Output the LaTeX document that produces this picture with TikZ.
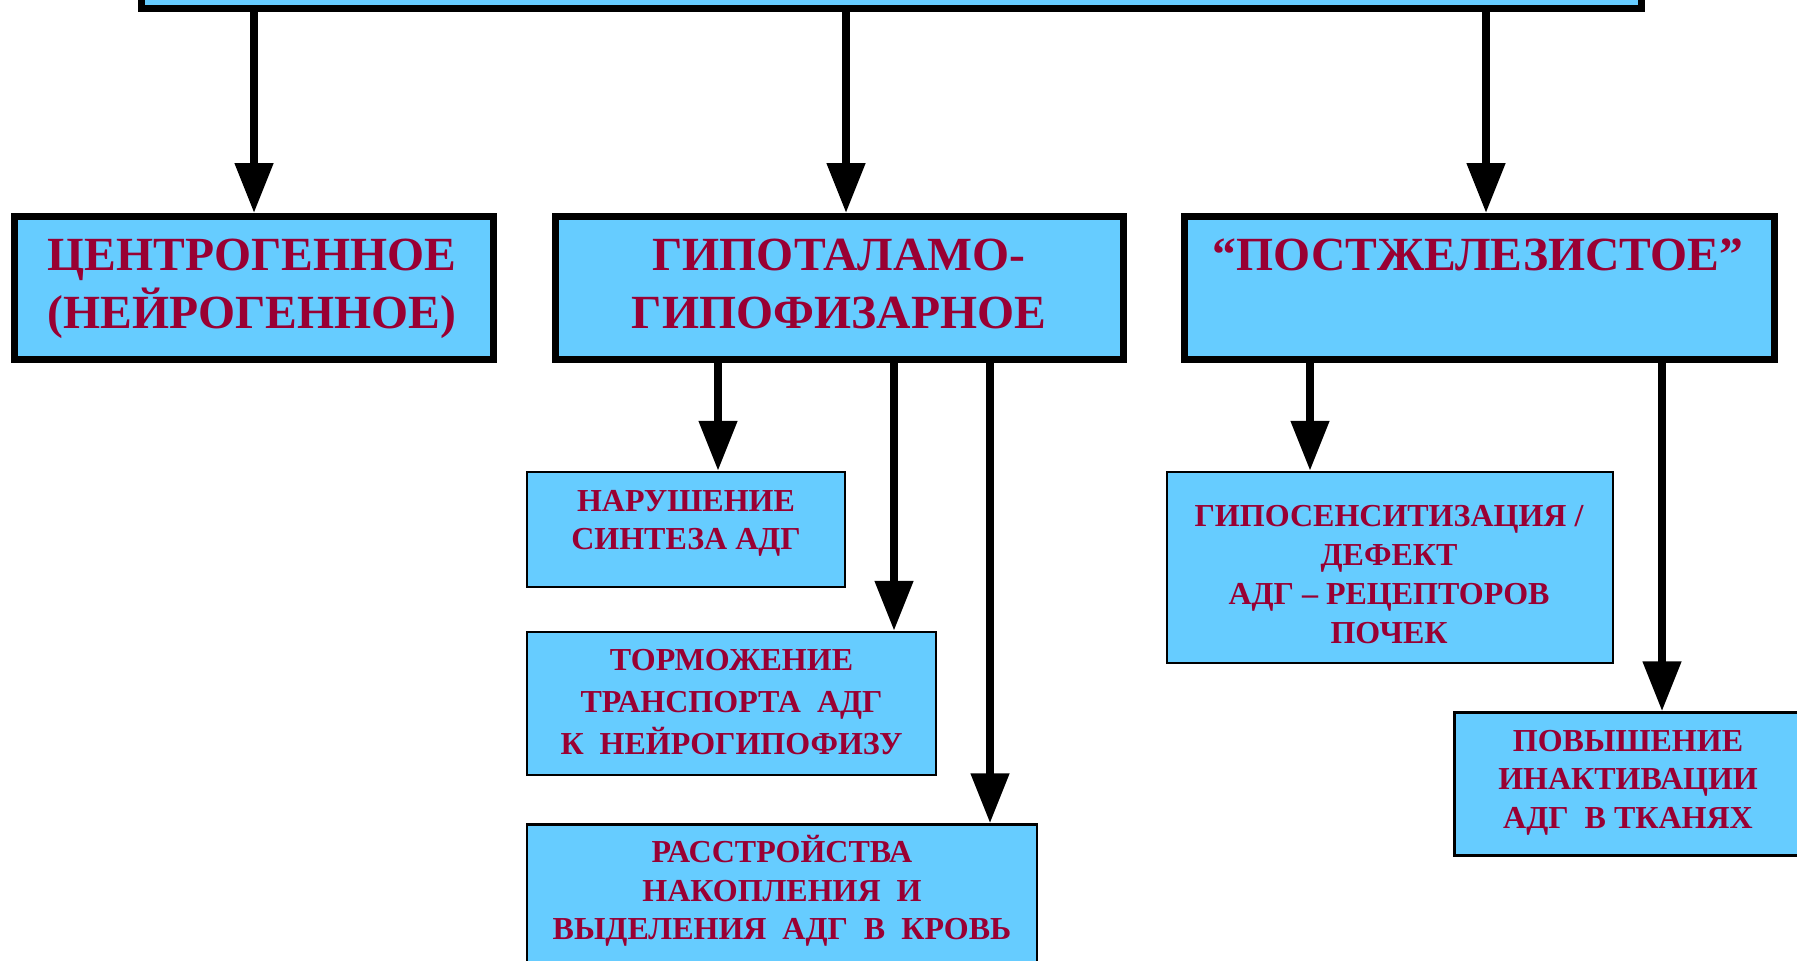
\documentclass[tikz,border=0pt]{standalone}
\usepackage{fontspec}
\setmainfont{Liberation Serif}
\usetikzlibrary{arrows.meta}
\definecolor{boxblue}{HTML}{66CCFF}
\definecolor{txtred}{HTML}{990033}
\begin{document}
\begin{tikzpicture}[x=0.5pt,y=-0.5pt,
  bigbox/.style={draw=black,fill=boxblue,line width=3.5pt,rectangle,inner sep=0pt},
  smallbox/.style={draw=black,fill=boxblue,line width=1.25pt,rectangle,inner sep=0pt},
  bigtxt/.style={text=txtred,font=\bfseries\fontsize{23.8pt}{29pt}\selectfont,align=center,inner sep=0pt,anchor=north},
  smalltxt/.style={text=txtred,align=center,inner sep=0pt,anchor=north},
  arr/.style={line width=4pt,-{Triangle[length=25pt,width=18.5pt]}}]
\useasboundingbox (0,0) rectangle (1797,960);
% top box (cut off)
\node[bigbox,minimum width=750pt,minimum height=54pt] (top) at (891.5,-45.5) {};
% level 2
\node[bigbox,minimum width=239.25pt,minimum height=71.5pt] (b1) at (254,288) {};
\node[bigbox,minimum width=284pt,minimum height=71.5pt] (b2) at (839.5,288) {};
\node[bigbox,minimum width=295pt,minimum height=71.5pt] (b3) at (1479.5,288) {};
\node[bigtxt] (t1) at (252,229.4) {\strut ЦЕНТРОГЕННОЕ\\\strut (НЕЙРОГЕННОЕ)};
\node[bigtxt] (t2) at (839,229.4) {\strut ГИПОТАЛАМО-\\\strut ГИПОФИЗАРНОЕ};
\node[bigtxt] (t3) at (1478,229.4) {\strut “ПОСТЖЕЛЕЗИСТОЕ”};
% level 3
\node[smallbox,minimum width=159pt,minimum height=57.5pt] (n1) at (686,529.5) {};
\node[smallbox,minimum width=204.5pt,minimum height=71.5pt] (n2) at (731.5,703.5) {};
\node[smallbox,minimum width=255pt,minimum height=88pt] (n3) at (782,912.5) {};
\node[smallbox,minimum width=223pt,minimum height=95.5pt] (m1) at (1390,567.5) {};
\node[smallbox,minimum width=173.5pt,minimum height=71.5pt] (m2) at (1628,784) {};
\node[smalltxt,font=\bfseries\fontsize{16pt}{19pt}\selectfont] (s1) at (686,484.4)
  {\strut НАРУШЕНИЕ\\\strut СИНТЕЗА АДГ};
\node[smalltxt,font=\bfseries\fontsize{16pt}{21pt}\selectfont] (s2) at (731.5,640.6)
  {\strut ТОРМОЖЕНИЕ\\\strut ТРАНСПОРТА~~АДГ\\\strut К~~НЕЙРОГИПОФИЗУ};
\node[smalltxt,font=\bfseries\fontsize{16pt}{19.25pt}\selectfont] (s3) at (782,835)
  {\strut РАССТРОЙСТВА\\\strut НАКОПЛЕНИЯ~~И\\\strut ВЫДЕЛЕНИЯ~~АДГ~~В~~КРОВЬ};
\node[smalltxt,font=\bfseries\fontsize{16pt}{19.6pt}\selectfont] (s4) at (1389,498.5)
  {\strut ГИПОСЕНСИТИЗАЦИЯ /\\\strut ДЕФЕКТ\\\strut АДГ – РЕЦЕПТОРОВ\\\strut ПОЧЕК};
\node[smalltxt,font=\bfseries\fontsize{16pt}{19.15pt}\selectfont] (s5) at (1628,724.2)
  {\strut ПОВЫШЕНИЕ\\\strut ИНАКТИВАЦИИ\\\strut АДГ~~В ТКАНЯХ};
% arrow columns
\coordinate (c1) at (254,0);
\coordinate (c2) at (846,0);
\coordinate (c3) at (1486,0);
\coordinate (d1) at (718,0);
\coordinate (d2) at (894,0);
\coordinate (d3) at (990,0);
\coordinate (e1) at (1310,0);
\coordinate (e2) at (1662,0);
\draw[arr] (top.south -| c1) -- (b1.north -| c1);
\draw[arr] (top.south -| c2) -- (b2.north -| c2);
\draw[arr] (top.south -| c3) -- (b3.north -| c3);
\draw[arr] (b2.south -| d1) -- (n1.north -| d1);
\draw[arr] (b2.south -| d2) -- (n2.north -| d2);
\draw[arr] (b2.south -| d3) -- (n3.north -| d3);
\draw[arr] (b3.south -| e1) -- (m1.north -| e1);
\draw[arr] (b3.south -| e2) -- (m2.north -| e2);
\end{tikzpicture}
\end{document}
